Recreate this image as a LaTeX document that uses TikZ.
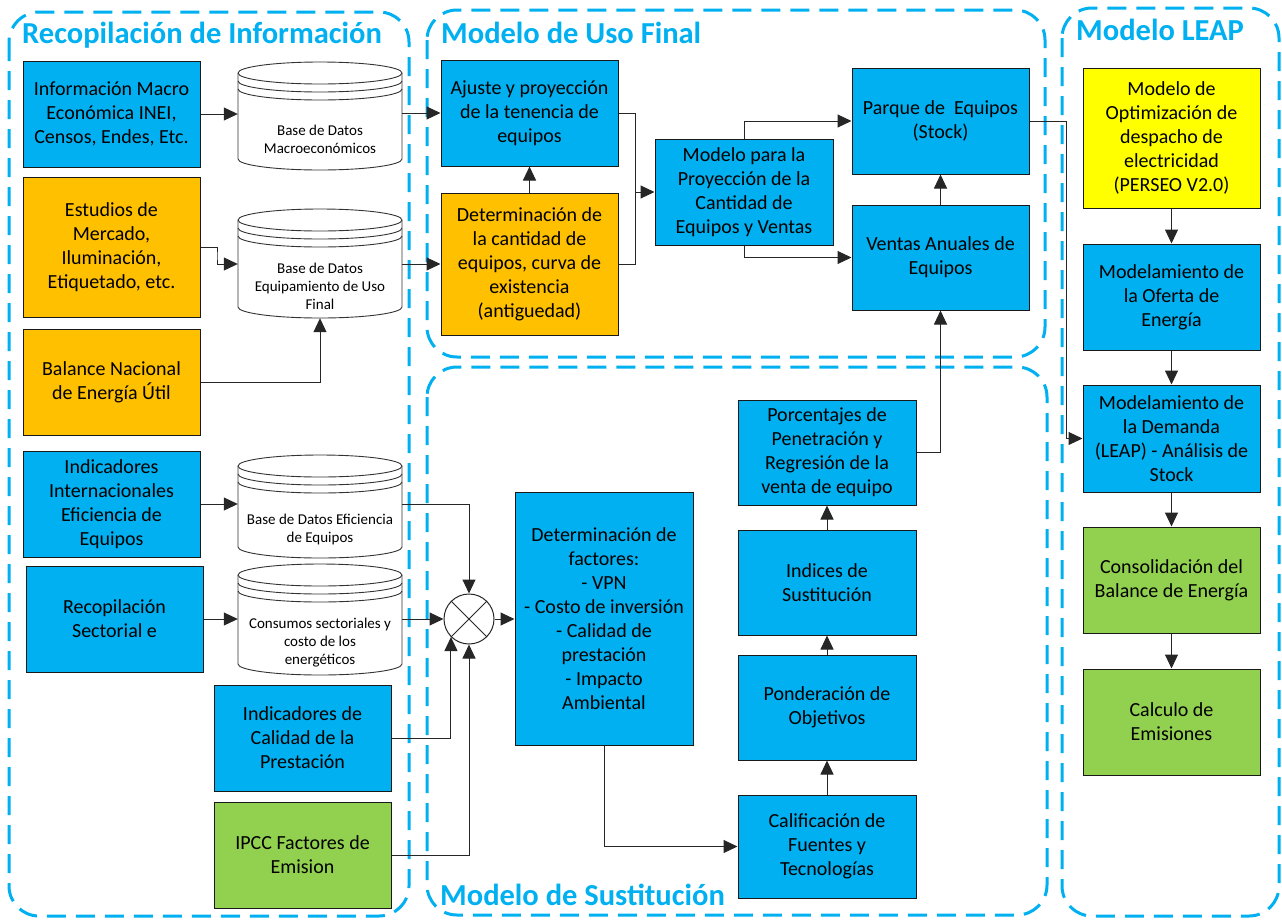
\documentclass[tikz,border=0pt]{standalone}
\usepackage{fontspec}
\setmainfont{Carlito}
\usetikzlibrary{arrows.meta,calc}
\definecolor{cyanL}{HTML}{00B0F0}
\definecolor{bblue}{HTML}{00B0F0}
\definecolor{borange}{HTML}{FFC000}
\definecolor{byellow}{HTML}{FFFF00}
\definecolor{bgreen}{HTML}{92D050}
\newcommand\bxfont{\fontsize{20}{24}\selectfont}
\newcommand\dbfont{\fontsize{15}{18}\selectfont}
\newcommand\ttlfont{\fontsize{30.5}{32}\selectfont\bfseries}
\tikzset{
 box/.style={draw=black!90, line width=1pt, inner sep=0pt, align=center, font=\bxfont},
 dbline/.style={draw=black!80, line width=0.9pt},
 dbtxt/.style={inner sep=0pt, align=center, font=\dbfont},
 arr/.style={draw=black!85, line width=1pt, -{Triangle[length=14pt,width=13pt]}},
 ln/.style={draw=black!85, line width=1pt},
 grp/.style={draw=cyanL, line width=3pt, dash pattern=on 19pt off 10pt, rounded corners=30pt},
 ttl/.style={text=cyanL, font=\ttlfont, inner sep=0pt, anchor=base west},
}
\newcommand\bx[7]{\node[box, fill=#6, minimum width={#4pt-#2pt}, minimum height={#5pt-#3pt}] (#1) at ({(#2+#4)/2},{(#3+#5)/2}) {#7};}
\newcommand\db[4]{%
 \draw[dbline, fill=white] (238,#2+11) -- (238,#3-11) arc[start angle=180,end angle=360,x radius=82pt,y radius=11pt] -- (402,#2+11) arc[start angle=0,end angle=180,x radius=82pt,y radius=11pt] -- cycle;
 \draw[dbline] (238,#2+11) arc[start angle=180,end angle=360,x radius=82pt,y radius=11pt];
 \draw[dbline] (238,#2+19) arc[start angle=180,end angle=360,x radius=82pt,y radius=11pt];
 \draw[dbline] (238,#2+27) arc[start angle=180,end angle=360,x radius=82pt,y radius=11pt];
 \node[minimum width=164pt, minimum height={#3pt-#2pt}, inner sep=0pt] (#1) at (320,{(#2+#3)/2}) {};
 \node[dbtxt] (#1t) at (320,{(#2+#3)/2+23}) {#4};}
\begin{document}
\begin{tikzpicture}[x=1pt,y=-1pt]
\useasboundingbox (0,0) rectangle (1282,919);
% groups
\draw[grp] (9,12) rectangle (409,916);
\draw[grp] (427,10) rectangle (1045,357);
\draw[grp] (427,367) rectangle (1047,915);
\draw[grp] (1062,8) rectangle (1279,916);
\node[ttl] (t1) at (22,43) {Recopilación de Información};
\node[ttl] (t2) at (441,43) {Modelo de Uso Final};
\node[ttl] (t3) at (1076,40) {Modelo LEAP};
\node[ttl] (t4) at (440,905) {Modelo de Sustitución};
% left column
\bx{info}{23}{61}{200}{167}{bblue}{Información Macro\\Económica INEI,\\Censos, Endes, Etc.}
\bx{estud}{23}{177}{200}{317}{borange}{Estudios de\\Mercado,\\Iluminación,\\Etiquetado, etc.}
\bx{bal}{23}{329}{200}{435}{borange}{Balance Nacional\\de Energía Útil}
\bx{indint}{23}{451}{200}{557}{bblue}{Indicadores\\Internacionales\\Eficiencia de\\Equipos}
\bx{recsec}{26}{566}{203}{672}{bblue}{Recopilación\\Sectorial e}
\bx{indcal}{214}{685}{391}{791}{bblue}{Indicadores de\\Calidad de la\\Prestación}
\bx{ipcc}{214}{802}{391}{908}{bgreen}{IPCC Factores de\\Emision}
% databases
\db{dbmacro}{62}{170}{Base de Datos\\Macroeconómicos}
\db{dbequip}{209}{318}{Base de Datos\\Equipamiento de Uso\\Final}
\db{dbefic}{455}{558}{Base de Datos Eficiencia\\de Equipos}
\db{dbcons}{564}{675}{Consumos sectoriales y\\costo de los\\energéticos}
% uso final
\bx{ajuste}{441}{60}{618}{166}{bblue}{Ajuste y proyección\\de la tenencia de\\equipos}
\bx{determ}{441}{193}{618}{335}{borange}{Determinación de\\la cantidad de\\equipos, curva de\\existencia\\(antiguedad)}
\bx{modproy}{655}{139}{833}{245}{bblue}{Modelo para la\\Proyección de la\\Cantidad de\\Equipos y Ventas}
\bx{parque}{852}{68}{1029}{174}{bblue}{Parque de\ \ Equipos\\(Stock)}
\bx{ventas}{852}{205}{1029}{310}{bblue}{Ventas Anuales de\\Equipos}
% sustitucion
\bx{factores}{515}{492}{693}{745}{bblue}{Determinación de\\factores:\\- VPN\\- Costo de inversión\\- Calidad de\\prestación\\- Impacto\\Ambiental}
\bx{porc}{738}{400}{916}{505}{bblue}{Porcentajes de\\Penetración y\\Regresión de la\\venta de equipo}
\bx{indices}{738}{530}{916}{635}{bblue}{Indices de\\Sustitución}
\bx{ponder}{738}{655}{916}{760}{bblue}{Ponderación de\\Objetivos}
\bx{calif}{738}{795}{916}{898}{bblue}{Calificación de\\Fuentes y\\Tecnologías}
% leap
\bx{perseo}{1083}{68}{1260}{208}{byellow}{Modelo de\\Optimización de\\despacho de\\electricidad\\(PERSEO V2.0)}
\bx{oferta}{1083}{244}{1260}{350}{bblue}{Modelamiento de\\la Oferta de\\Energía}
\bx{demanda}{1083}{385}{1260}{492}{bblue}{Modelamiento de\\la Demanda\\(LEAP) - Análisis de\\Stock}
\bx{consol}{1083}{527}{1260}{633}{bgreen}{Consolidación del\\Balance de Energía}
\bx{emis}{1083}{669}{1260}{775}{bgreen}{Calculo de\\Emisiones}
% junction
\node[circle, draw=black!85, line width=1pt, fill=white, minimum size=50pt, inner sep=0pt] (junc) at (469,619) {};
\draw[ln] (junc.north west) -- (junc.south east);
\draw[ln] (junc.north east) -- (junc.south west);
% connectors
\draw[arr] (info.east) -- (dbmacro.west |- info.east);
\draw[arr] (dbmacro.east |- ajuste.west) -- (ajuste.west);
\draw[arr] (estud.east) -| (217,256) |- (dbequip.west |- determ.west);
\draw[arr] (bal.east) -| (dbequip.south);
\draw[arr] (dbequip.east |- determ.west) -- (determ.west);
\draw[arr] (determ.north) -- (ajuste.south);
\coordinate (jx) at (635,192);
\draw[ln] (ajuste.east) -| (jx);
\draw[ln] (determ.east) -| (jx);
\draw[arr] (jx) -- (modproy.west);
\draw[arr] (modproy.north) |- (parque.west);
\draw[arr] (modproy.south) |- (ventas.west);
\draw[arr] (ventas.north) -- (parque.south);
\coordinate (pj) at (1066,121);
\draw[arr] (parque.east) -- (pj |- parque.east) |- (demanda.west);
\draw[arr] (perseo.south) -- (oferta.north);
\draw[arr] (oferta.south) -- (demanda.north);
\draw[arr] (demanda.south) -- (consol.north);
\draw[arr] (consol.south) -- (emis.north);
\draw[arr] (porc.east) -| (ventas.south);
\draw[arr] (calif.north) -- (ponder.south);
\draw[arr] (ponder.north) -- (indices.south);
\draw[arr] (indices.north) -- (porc.south);
\draw[arr] (factores.south) |- (calif.west);
\draw[arr] (indint.east) -- (dbefic.west |- indint.east);
\draw[arr] (recsec.east) -- (dbcons.west |- recsec.east);
\draw[arr] (dbefic.east |- indint.east) -| (junc.north);
\draw[arr] (dbcons.east |- junc.west) -- (junc.west);
\draw[arr] (indcal.east) -| (junc.south west);
\draw[arr] (ipcc.east) -| (junc.south);
\draw[arr] (junc.east) -- (factores.west |- junc.east);
\end{tikzpicture}
\end{document}
